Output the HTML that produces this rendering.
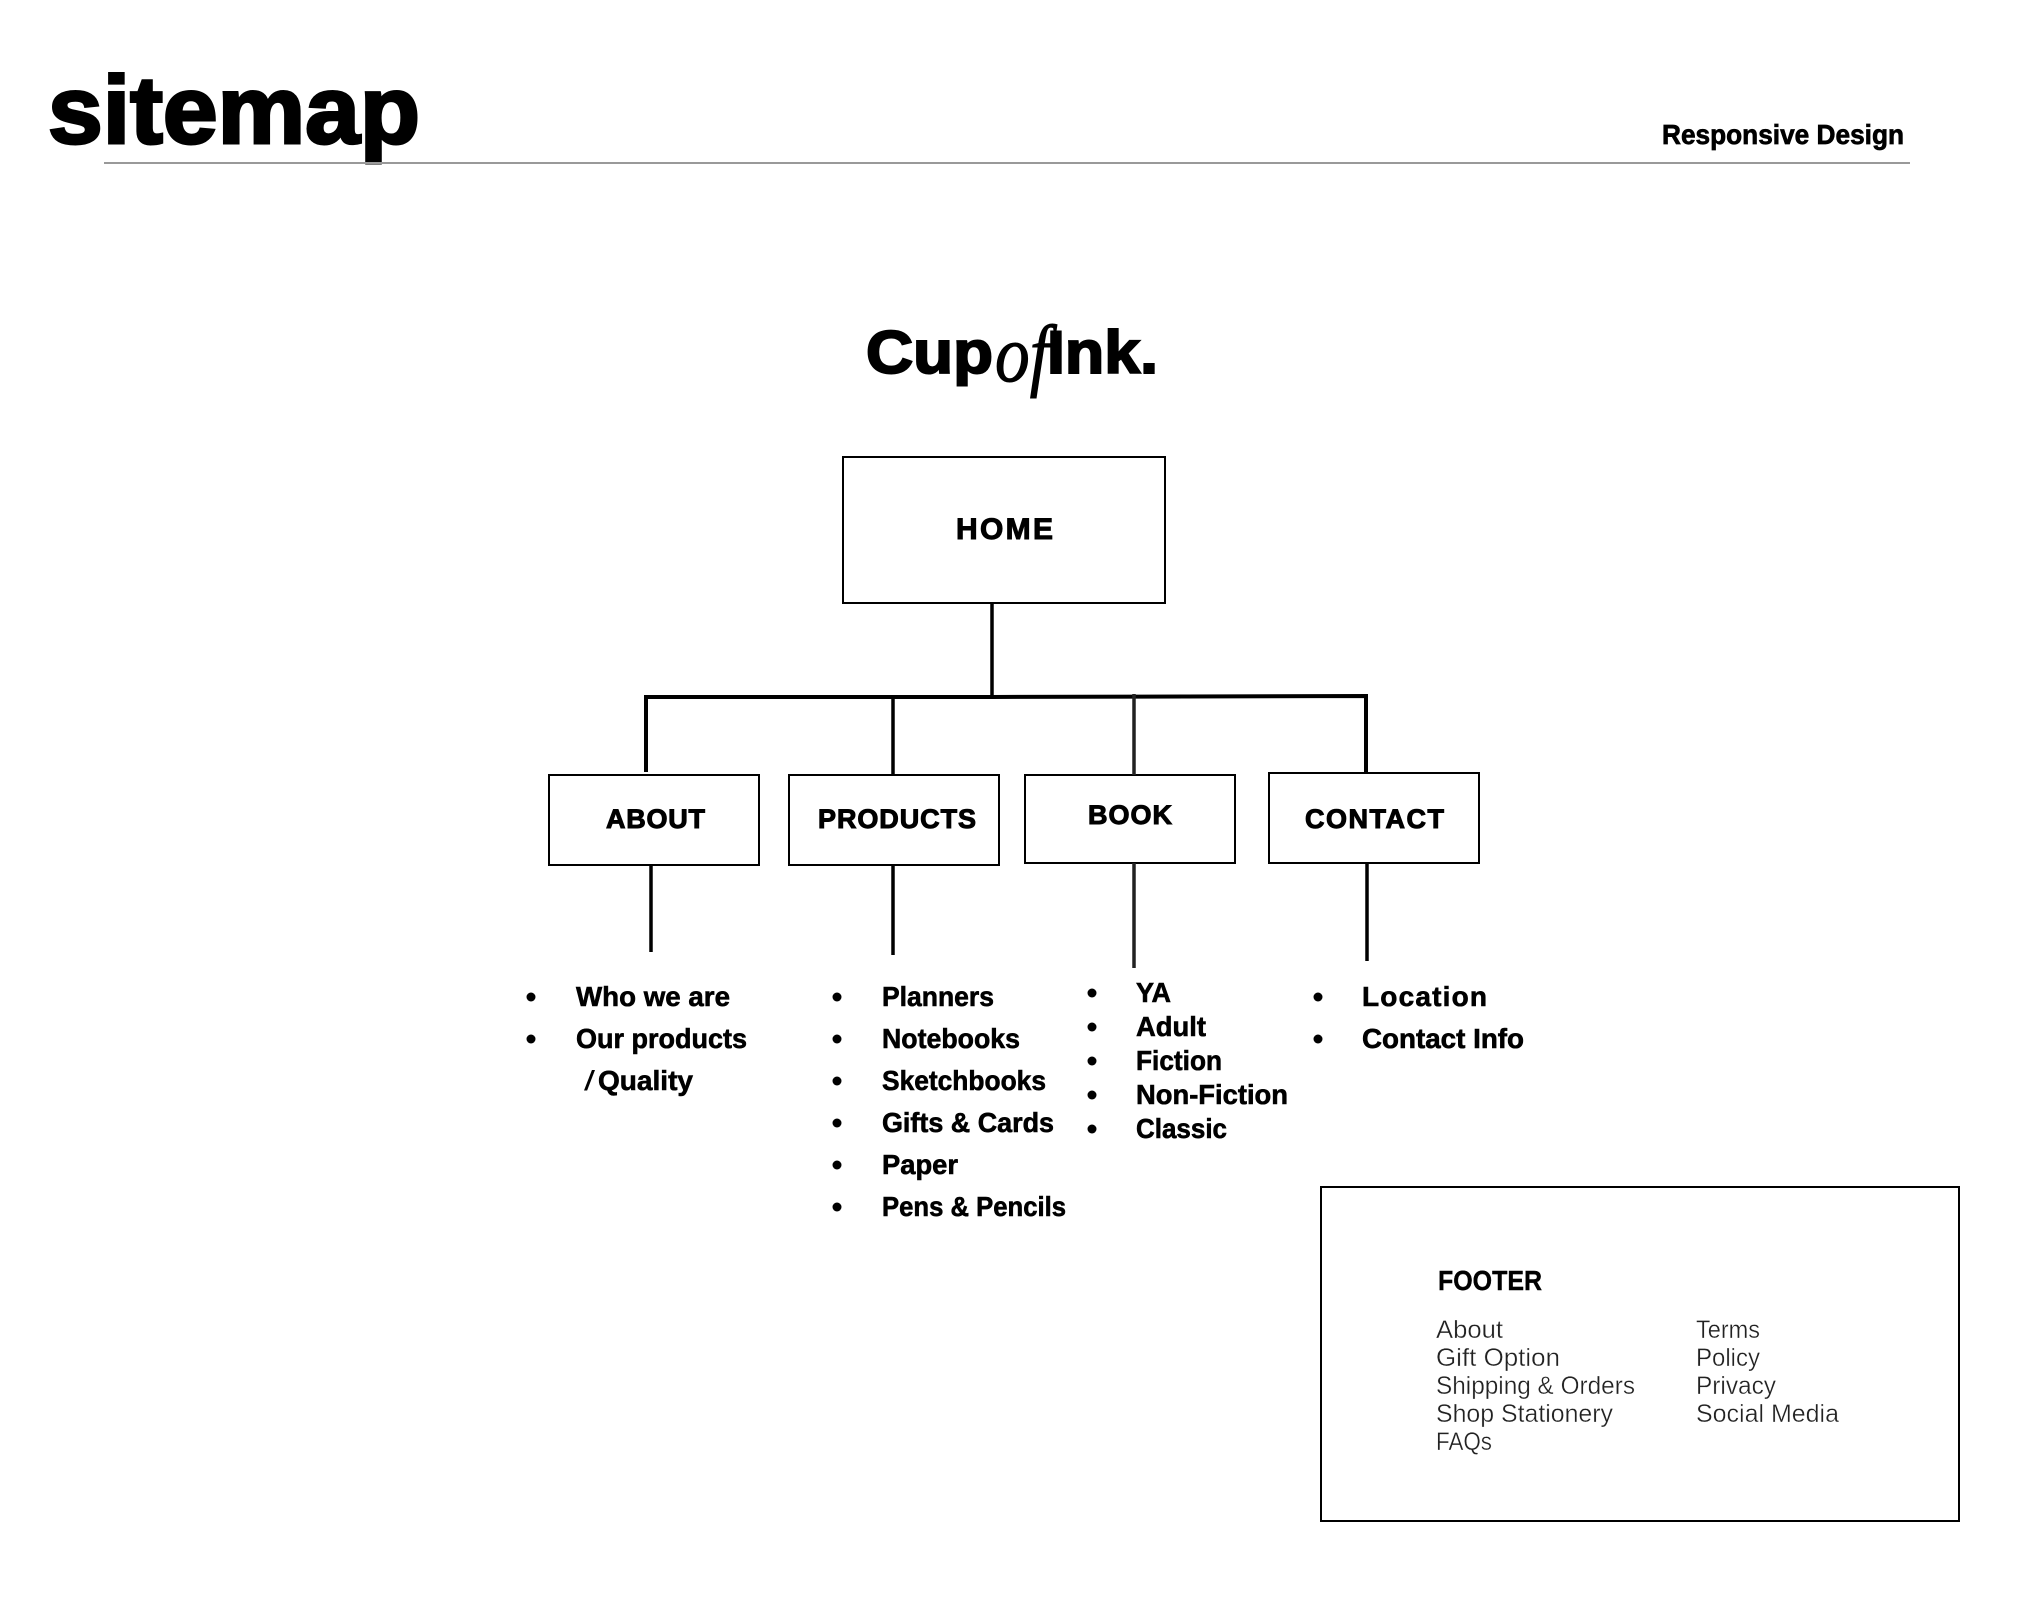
<!DOCTYPE html>
<html lang="en"><head><meta charset="utf-8"><title>sitemap</title>
<style>
html,body{margin:0;padding:0;background:#fff;width:2040px;height:1606px;overflow:hidden}
svg{display:block}
text{font-family:"Liberation Sans",sans-serif;font-weight:700;fill:#000}
.b{stroke:#000;stroke-width:.7px}
.h{font-size:27px;stroke:#000;stroke-width:1px}
.l{font-size:28px}
.f{font-size:25px;font-weight:400;fill:#222;stroke:#fff;stroke-width:.35px}
</style></head><body>
<svg width="2040" height="1606" viewBox="0 0 2040 1606" xmlns="http://www.w3.org/2000/svg">
<rect width="2040" height="1606" fill="#fff"/>

<text x="48" y="143" font-size="96" textLength="372" lengthAdjust="spacingAndGlyphs" stroke="#000" stroke-width="3">sitemap</text>
<rect x="104" y="162" width="1806" height="2" fill="#999"/>
<text class="b" x="1662" y="144" font-size="28" textLength="242" lengthAdjust="spacingAndGlyphs">Responsive Design</text>

<text x="866" y="373" font-size="60" textLength="127" lengthAdjust="spacingAndGlyphs" stroke="#000" stroke-width="2">Cup</text>
<text x="995" y="381" font-size="80" textLength="54" lengthAdjust="spacingAndGlyphs" stroke="#000" stroke-width="1" style="font-family:'Liberation Serif',serif;font-style:italic;font-weight:400">of</text>
<text x="1047" y="373" font-size="60" textLength="111" lengthAdjust="spacingAndGlyphs" stroke="#000" stroke-width="2">Ink.</text>

<g fill="none" stroke="#000" stroke-width="2">
<rect x="843" y="457" width="322" height="146"/>
<rect x="549" y="775" width="210" height="90"/>
<rect x="789" y="775" width="210" height="90"/>
<rect x="1025" y="775" width="210" height="88"/>
<rect x="1269" y="773" width="210" height="90"/>
<rect x="1321" y="1187" width="638" height="334"/>
</g>

<g fill="none" stroke="#000" stroke-width="3.5">
<path d="M992 603V697"/>
<path d="M646 772V697H992L1366 696V773" stroke-width="4"/>
<path d="M893 697V775"/>
<path d="M1134 694V775" stroke="#222"/>
<path d="M651 865V952"/>
<path d="M893 865V955"/>
<path d="M1134 863V968" stroke="#222"/>
<path d="M1367 863V961"/>
</g>

<text class="h" x="956" y="539" textLength="97" style="font-size:30px">HOME</text>
<text class="h" x="606" y="828" textLength="99">ABOUT</text>
<text class="h" x="818" y="828" textLength="158">PRODUCTS</text>
<text class="h" x="1088" y="824" textLength="84">BOOK</text>
<text class="h" x="1305" y="828" textLength="139">CONTACT</text>

<g fill="#000">
<circle cx="531" cy="997" r="4.5"/><circle cx="531" cy="1039" r="4.5"/>
<circle cx="837" cy="997" r="4.5"/><circle cx="837" cy="1039" r="4.5"/><circle cx="837" cy="1081" r="4.5"/><circle cx="837" cy="1123" r="4.5"/><circle cx="837" cy="1165" r="4.5"/><circle cx="837" cy="1207" r="4.5"/>
<circle cx="1092" cy="993" r="4.5"/><circle cx="1092" cy="1027" r="4.5"/><circle cx="1092" cy="1061" r="4.5"/><circle cx="1092" cy="1095" r="4.5"/><circle cx="1092" cy="1129" r="4.5"/>
<circle cx="1318" cy="997" r="4.5"/><circle cx="1318" cy="1039" r="4.5"/>
</g>

<g class="l" stroke="#000" stroke-width=".6">
<text class="l" x="576" y="1006" textLength="154" lengthAdjust="spacingAndGlyphs">Who we are</text>
<text class="l" x="576" y="1048" textLength="171" lengthAdjust="spacingAndGlyphs">Our products</text>
<text class="l" x="584" y="1090" style="font-weight:400" textLength="11" lengthAdjust="spacingAndGlyphs" stroke="none">/</text>
<text class="l" x="598" y="1090" textLength="95" lengthAdjust="spacingAndGlyphs">Quality</text>

<text class="l" x="882" y="1006" textLength="112" lengthAdjust="spacingAndGlyphs">Planners</text>
<text class="l" x="882" y="1048" textLength="138" lengthAdjust="spacingAndGlyphs">Notebooks</text>
<text class="l" x="882" y="1090" textLength="164" lengthAdjust="spacingAndGlyphs">Sketchbooks</text>
<text class="l" x="882" y="1132" textLength="172" lengthAdjust="spacingAndGlyphs">Gifts &amp; Cards</text>
<text class="l" x="882" y="1174" textLength="76" lengthAdjust="spacingAndGlyphs">Paper</text>
<text class="l" x="882" y="1216" textLength="184" lengthAdjust="spacingAndGlyphs">Pens &amp; Pencils</text>

<text class="l" x="1136" y="1002" textLength="35" lengthAdjust="spacingAndGlyphs">YA</text>
<text class="l" x="1136" y="1036" textLength="70" lengthAdjust="spacingAndGlyphs">Adult</text>
<text class="l" x="1136" y="1070" textLength="86" lengthAdjust="spacingAndGlyphs">Fiction</text>
<text class="l" x="1136" y="1104" textLength="152" lengthAdjust="spacingAndGlyphs">Non-Fiction</text>
<text class="l" x="1136" y="1138" textLength="91" lengthAdjust="spacingAndGlyphs">Classic</text>

<text class="l" x="1362" y="1006" textLength="125">Location</text>
<text class="l" x="1362" y="1048" textLength="162" lengthAdjust="spacingAndGlyphs">Contact Info</text>
</g>

<text x="1438" y="1290" font-size="28" textLength="104" lengthAdjust="spacingAndGlyphs" stroke="#000" stroke-width=".4">FOOTER</text>
<text class="f" x="1436" y="1338" textLength="67" lengthAdjust="spacingAndGlyphs">About</text>
<text class="f" x="1436" y="1366" textLength="124" lengthAdjust="spacingAndGlyphs">Gift Option</text>
<text class="f" x="1436" y="1394" textLength="199" lengthAdjust="spacingAndGlyphs">Shipping &amp; Orders</text>
<text class="f" x="1436" y="1422" textLength="177" lengthAdjust="spacingAndGlyphs">Shop Stationery</text>
<text class="f" x="1436" y="1450" textLength="56" lengthAdjust="spacingAndGlyphs">FAQs</text>
<text class="f" x="1696" y="1338" textLength="64" lengthAdjust="spacingAndGlyphs">Terms</text>
<text class="f" x="1696" y="1366" textLength="64" lengthAdjust="spacingAndGlyphs">Policy</text>
<text class="f" x="1696" y="1394" textLength="80" lengthAdjust="spacingAndGlyphs">Privacy</text>
<text class="f" x="1696" y="1422" textLength="143" lengthAdjust="spacingAndGlyphs">Social Media</text>
</svg>
</body></html>
